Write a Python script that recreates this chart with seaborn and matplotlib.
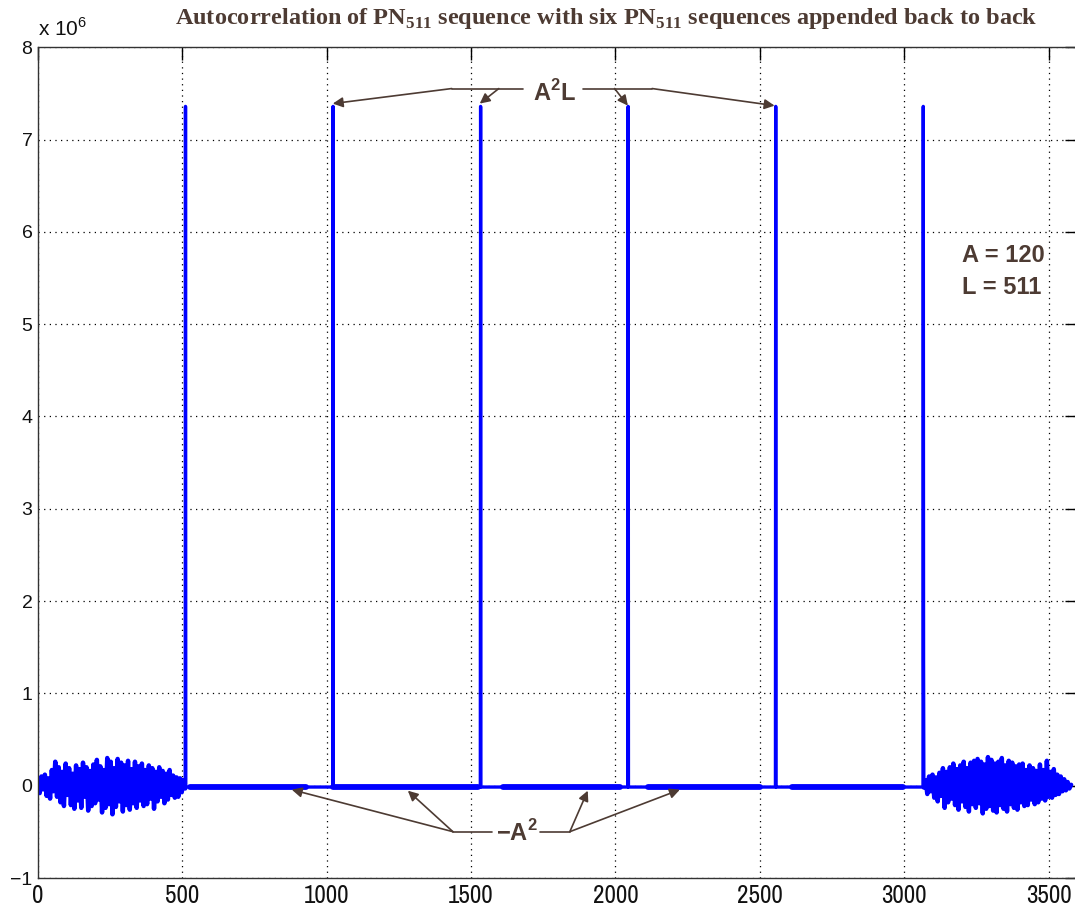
import matplotlib
matplotlib.use("Agg")
import matplotlib.pyplot as plt
from matplotlib import font_manager as fm
import numpy as np
import pandas as pd
import seaborn as sns

# values in units of 1e6
PEAK_LAGS = [511, 1022, 1533, 2044, 2555, 3066]
PEAK_VALUE = 7.3584      # A^2 L = 120^2 * 511
FLOOR_VALUE = -0.0144    # -A^2
LAST_PEAK_SIDE = 1.35    # sample right after the last peak

NOISE_STEP = 6
LEFT_START = 0
LEFT_NOISE = [
    0.05, -0.08, 0.10, -0.04, 0.12, -0.11, 0.08, -0.14, 0.17, -0.06,
    0.26, -0.12, 0.20, -0.18, 0.15, -0.22, 0.24, -0.10, 0.19, -0.21,
    0.13, -0.25, 0.22, -0.16, 0.18, -0.24, 0.25, -0.12, 0.20, -0.27,
    0.16, -0.22, 0.23, -0.19, 0.28, -0.15, 0.21, -0.29, 0.17, -0.24,
    0.30, -0.20, 0.26, -0.31, 0.19, -0.23, 0.29, -0.17, 0.25, -0.28,
    0.22, -0.21, 0.27, -0.26, 0.18, -0.19, 0.26, -0.24, 0.21, -0.16,
    0.24, -0.22, 0.17, -0.20, 0.22, -0.14, 0.19, -0.25, 0.15, -0.17,
    0.20, -0.12, 0.16, -0.19, 0.13, -0.15, 0.17, -0.10, 0.11, -0.13,
    0.09, -0.12, 0.08, -0.07, 0.06, -0.03,
]
RIGHT_START = 3068
RIGHT_NOISE = [
    -0.02, 0.06, -0.09, 0.10, -0.06, 0.12, -0.13, 0.09, -0.17, 0.14,
    -0.11, 0.19, -0.24, 0.15, -0.18, 0.20, -0.14, 0.24, -0.21, 0.18,
    -0.26, 0.22, -0.17, 0.26, -0.23, 0.19, -0.28, 0.25, -0.20, 0.27,
    -0.24, 0.29, -0.19, 0.26, -0.30, 0.23, -0.25, 0.31, -0.22, 0.28,
    -0.27, 0.24, -0.29, 0.26, -0.21, 0.30, -0.25, 0.22, -0.28, 0.27,
    -0.20, 0.25, -0.24, 0.21, -0.26, 0.23, -0.18, 0.24, -0.22, 0.17,
    -0.21, 0.22, -0.15, 0.19, -0.20, 0.16, -0.18, 0.23, -0.14, 0.17,
    -0.16, 0.27, -0.12, 0.15, -0.13, 0.18, -0.10, 0.12, -0.09, 0.10,
    -0.06, 0.07, -0.05, 0.04, -0.03, 0.01,
]
# flat stretches that render heavier in the original
HEAVY_SPANS = [(527, 930), (1022, 1523), (1610, 2015), (2112, 2500), (2611, 2995)]

X_TICKS = [0, 500, 1000, 1500, 2000, 2500, 3000, 3500]
Y_TICKS = [-1, 0, 1, 2, 3, 4, 5, 6, 7, 8]

# build the correlation trace: noisy edges + peak/floor middle
left = pd.DataFrame({"lag": LEFT_START + NOISE_STEP * np.arange(len(LEFT_NOISE)),
                     "corr": LEFT_NOISE})
right = pd.DataFrame({"lag": RIGHT_START + NOISE_STEP * np.arange(len(RIGHT_NOISE)),
                      "corr": RIGHT_NOISE})
mid_x, mid_y = [left["lag"].iloc[-1]], [LEFT_NOISE[-1]]
for i, lag in enumerate(PEAK_LAGS):
    mid_x += [lag, lag + 1]
    mid_y += [PEAK_VALUE, FLOOR_VALUE if i < len(PEAK_LAGS) - 1 else LAST_PEAK_SIDE]
    if i < len(PEAK_LAGS) - 1:
        mid_x.append(PEAK_LAGS[i + 1] - 1)
        mid_y.append(FLOOR_VALUE)
mid_x.append(RIGHT_START)
mid_y.append(RIGHT_NOISE[0])
middle = pd.DataFrame({"lag": mid_x, "corr": mid_y})

sns.set_theme(style="white")
plt.rcParams["font.family"] = ["Liberation Sans", "DejaVu Sans"]
plt.rcParams["mathtext.fontset"] = "custom"
plt.rcParams["mathtext.rm"] = "Liberation Serif:bold"
plt.rcParams["mathtext.sf"] = "Liberation Sans:bold"
plt.rcParams["mathtext.tt"] = "Liberation Sans"


def narrow_font(size):
    for f in fm.fontManager.ttflist:
        if "Narrow" in f.name or "Condensed" in f.name:
            if f.weight in (400, "normal", "regular") and f.style == "normal":
                return fm.FontProperties(fname=f.fname, size=size)
    for f in fm.fontManager.ttflist:
        if f.stretch in ("condensed", "semi-condensed") and f.weight in (400, "normal") \
                and f.style == "normal" and f.name.startswith("DejaVu Sans"):
            return fm.FontProperties(fname=f.fname, size=size)
    return fm.FontProperties(family="Liberation Sans", size=size - 2)


BROWN = "#4d3b33"
BLUE = "#0000ff"

fig = plt.figure(figsize=(10.75, 9.11), dpi=100)
ax = fig.add_axes([0.0353, 0.0362, 0.967, 0.912])

sns.lineplot(data=middle, x="lag", y="corr", sort=False, estimator=None,
             color=BLUE, linewidth=2.4, ax=ax)
for part in (left, right):
    sns.lineplot(data=part, x="lag", y="corr", sort=False, estimator=None,
                 color=BLUE, linewidth=3.2, ax=ax)
for a, b in HEAVY_SPANS:
    sns.lineplot(x=[a, b], y=[FLOOR_VALUE, FLOOR_VALUE], color=BLUE,
                 linewidth=4.2, estimator=None, ax=ax)

ax.set_xlim(0, 3600)
ax.set_ylim(-1, 8)
ax.set_xticks(X_TICKS)
ax.set_yticks(Y_TICKS)
xfp = narrow_font(18)
ax.set_xticklabels([str(t) for t in X_TICKS], fontproperties=xfp)
ax.set_yticklabels([str(t).replace("-", "\u2212") for t in Y_TICKS], fontsize=14)
ax.set_xlabel("")
ax.set_ylabel("")
ax.tick_params(direction="in", length=9, width=1, color="black",
               top=True, right=True, labelcolor="#111111")
ax.tick_params(axis="x", pad=4)
ax.tick_params(axis="y", pad=4)
ax.grid(True, color="black", linestyle=(0, (1, 3.5)), linewidth=0.9)
for s in ax.spines.values():
    s.set_color("#333333")
    s.set_linewidth(1.0)

fig.text(0.0353, 0.956, r"x 10$^{\mathtt{6}}$", fontsize=15,
         color="#111111", ha="left", va="bottom")

fig.text(0.564, 0.980,
         r"Autocorrelation of PN$_{\mathrm{511}}$ sequence with six PN$_{\mathrm{511}}$ sequences appended back to back",
         fontfamily="Liberation Serif", fontweight="bold", fontsize=17.5,
         color=BROWN, ha="center", va="center")

# A^2 L callout
ax.text(1790, 7.50, r"A$^{\mathsf{2}}$L", fontsize=17, fontweight="bold",
        color=BROWN, ha="center", va="center")
ax.plot([1433, 1679], [7.552, 7.552], color=BROWN, lw=1.2)
ax.plot([1887, 2127], [7.552, 7.552], color=BROWN, lw=1.2)
arrow = dict(arrowstyle="-|>", color=BROWN, lw=1.2, mutation_scale=15, shrinkA=0, shrinkB=0)
for (x0, y0), (x1, y1) in [((1433, 7.552), (1021, 7.389)), ((1596, 7.552), (1530, 7.389)),
                           ((1997, 7.552), (2043, 7.367)), ((2127, 7.552), (2551, 7.367))]:
    ax.annotate("", xy=(x1, y1), xytext=(x0, y0), arrowprops=arrow)

# -A^2 callout
ax.text(1660, -0.509, "\u2212" + r"A$^{\mathsf{2}}$", fontsize=17, fontweight="bold",
        color=BROWN, ha="center", va="center")
ax.plot([1437, 1572], [-0.498, -0.498], color=BROWN, lw=1.2)
ax.plot([1738, 1842], [-0.498, -0.498], color=BROWN, lw=1.2)
for (x0, y0), (x1, y1) in [((1437, -0.498), (879, -0.043)), ((1437, -0.498), (1281, -0.054)),
                           ((1842, -0.498), (1904, -0.054)), ((1842, -0.498), (2223, -0.043))]:
    ax.annotate("", xy=(x1, y1), xytext=(x0, y0), arrowprops=arrow)

ax.text(3200, 5.74, "A = 120", fontsize=17, fontweight="bold", color=BROWN,
        ha="left", va="center")
ax.text(3200, 5.40, "L = 511", fontsize=17, fontweight="bold", color=BROWN,
        ha="left", va="center")

fig.savefig("out.png", dpi=100)
